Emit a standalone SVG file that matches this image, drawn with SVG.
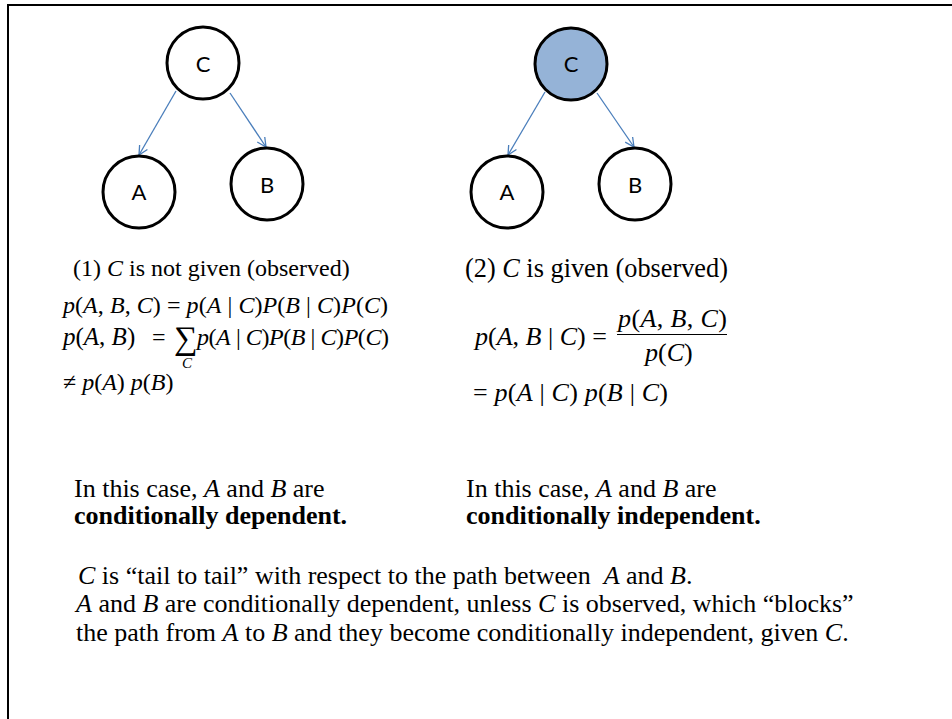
<svg xmlns="http://www.w3.org/2000/svg" width="952" height="719" viewBox="0 0 952 719">
<style>
.node{fill:#fff;stroke:#000;stroke-width:3}
.obs{fill:#95B3D7}
.lbl{font-family:Lato,"Liberation Sans",sans-serif;font-size:22px;fill:#000;text-anchor:middle}
.edge{stroke:#4A7EBB;stroke-width:1.3;fill:none}
.t{font-family:"Liberation Serif","Times New Roman",serif;font-size:24px;fill:#000}
.t2{font-family:"Liberation Serif","Times New Roman",serif;font-size:26px;fill:#000}
.m{font-family:"Liberation Serif","Times New Roman",serif;font-size:24px;fill:#000}
.m2{font-family:"Liberation Serif","Times New Roman",serif;font-size:26px;fill:#000}
.i{font-style:italic}
.b{font-weight:bold}
</style>
<defs>
<marker id="arr" markerUnits="userSpaceOnUse" markerWidth="12" markerHeight="12" refX="10" refY="5" orient="auto" viewBox="0 0 12 10">
<path d="M1,0.5 L10,5 L1,9.5" fill="none" stroke="#4A7EBB" stroke-width="1.3"/>
</marker>
</defs>
<rect width="952" height="719" fill="#fff"/>
<path d="M8,719 V5 H952" fill="none" stroke="#000" stroke-width="2"/>

<g id="connectors">
<line class="edge" x1="176" y1="91" x2="139" y2="155" marker-end="url(#arr)"/>
<line class="edge" x1="230" y1="93" x2="266" y2="147" marker-end="url(#arr)"/>
<line class="edge" x1="545" y1="92" x2="508" y2="155" marker-end="url(#arr)"/>
<line class="edge" x1="597" y1="93" x2="634" y2="147" marker-end="url(#arr)"/>
</g>

<g id="node-C1"><circle class="node" cx="203" cy="63" r="36"/><text class="lbl" x="203" y="72">C</text></g>
<g id="node-A1"><circle class="node" cx="139" cy="192" r="36"/><text class="lbl" x="139" y="200">A</text></g>
<g id="node-B1"><circle class="node" cx="267" cy="184" r="36"/><text class="lbl" x="267" y="193">B</text></g>

<g id="node-C2"><circle class="node obs" cx="571" cy="64" r="36"/><text class="lbl" x="571" y="72">C</text></g>
<g id="node-A2"><circle class="node" cx="507" cy="192" r="36"/><text class="lbl" x="507" y="200">A</text></g>
<g id="node-B2"><circle class="node" cx="635" cy="184" r="36"/><text class="lbl" x="635" y="193">B</text></g>

<g id="left-text">
<text class="t" x="73" y="276">(1) <tspan class="i">C</tspan> is not given (observed)</text>
<text class="m" x="63" y="313" textLength="325" lengthAdjust="spacing"><tspan class="i">p</tspan>(<tspan class="i">A</tspan>, <tspan class="i">B</tspan>, <tspan class="i">C</tspan>) = <tspan class="i">p</tspan>(<tspan class="i">A</tspan> | <tspan class="i">C</tspan>)<tspan class="i">P</tspan>(<tspan class="i">B</tspan> | <tspan class="i">C</tspan>)<tspan class="i">P</tspan>(<tspan class="i">C</tspan>)</text>
<text class="m" x="63" y="345" style="font-size:25px"><tspan class="i">p</tspan>(<tspan class="i">A</tspan>, <tspan class="i">B</tspan>)</text>
<text class="m" x="152" y="345">=</text>
<text class="m" x="174" y="349" style="font-size:33px">∑</text>
<text class="m" x="197" y="345" textLength="192" lengthAdjust="spacing"><tspan class="i">p</tspan>(<tspan class="i">A</tspan> | <tspan class="i">C</tspan>)<tspan class="i">P</tspan>(<tspan class="i">B</tspan> | <tspan class="i">C</tspan>)<tspan class="i">P</tspan>(<tspan class="i">C</tspan>)</text>
<text class="m i" x="182" y="368" style="font-size:15px">C</text>
<text class="m" x="63" y="390">≠ <tspan class="i">p</tspan>(<tspan class="i">A</tspan>) <tspan class="i">p</tspan>(<tspan class="i">B</tspan>)</text>
</g>

<g id="right-text">
<text class="t" x="465" y="277" style="font-size:26.3px">(2) <tspan class="i">C</tspan> is given (observed)</text>
<text class="m2" x="475" y="345"><tspan class="i">p</tspan>(<tspan class="i">A</tspan>, <tspan class="i">B</tspan> | <tspan class="i">C</tspan>) =</text>
<text class="m2" x="618" y="327" textLength="109" lengthAdjust="spacing"><tspan class="i">p</tspan>(<tspan class="i">A</tspan>, <tspan class="i">B</tspan>, <tspan class="i">C</tspan>)</text>
<line x1="617" y1="334.5" x2="727" y2="334.5" stroke="#000" stroke-width="1.2"/>
<text class="m2" x="645" y="361"><tspan class="i">p</tspan>(<tspan class="i">C</tspan>)</text>
<text class="m2" x="473" y="401" textLength="195" lengthAdjust="spacing">= <tspan class="i">p</tspan>(<tspan class="i">A</tspan> | <tspan class="i">C</tspan>) <tspan class="i">p</tspan>(<tspan class="i">B</tspan> | <tspan class="i">C</tspan>)</text>
</g>

<g id="conclusions">
<text class="t2" x="74" y="497">In this case, <tspan class="i">A</tspan> and <tspan class="i">B</tspan> are</text>
<text class="t2 b" x="74" y="524">conditionally dependent.</text>
<text class="t2" x="466" y="497">In this case, <tspan class="i">A</tspan> and <tspan class="i">B</tspan> are</text>
<text class="t2 b" x="466" y="524">conditionally independent.</text>
</g>

<g id="summary">
<text class="t2" x="78" y="584"><tspan class="i">C</tspan> is “tail to tail” with respect to the path between&#160; <tspan class="i">A</tspan> and <tspan class="i">B</tspan>.</text>
<text class="t2" x="76" y="612"><tspan class="i">A</tspan> and <tspan class="i">B</tspan> are conditionally dependent, unless <tspan class="i">C</tspan> is observed, which “blocks”</text>
<text class="t2" x="76" y="641">the path from <tspan class="i">A</tspan> to <tspan class="i">B</tspan> and they become conditionally independent, given <tspan class="i">C</tspan>.</text>
</g>
</svg>
